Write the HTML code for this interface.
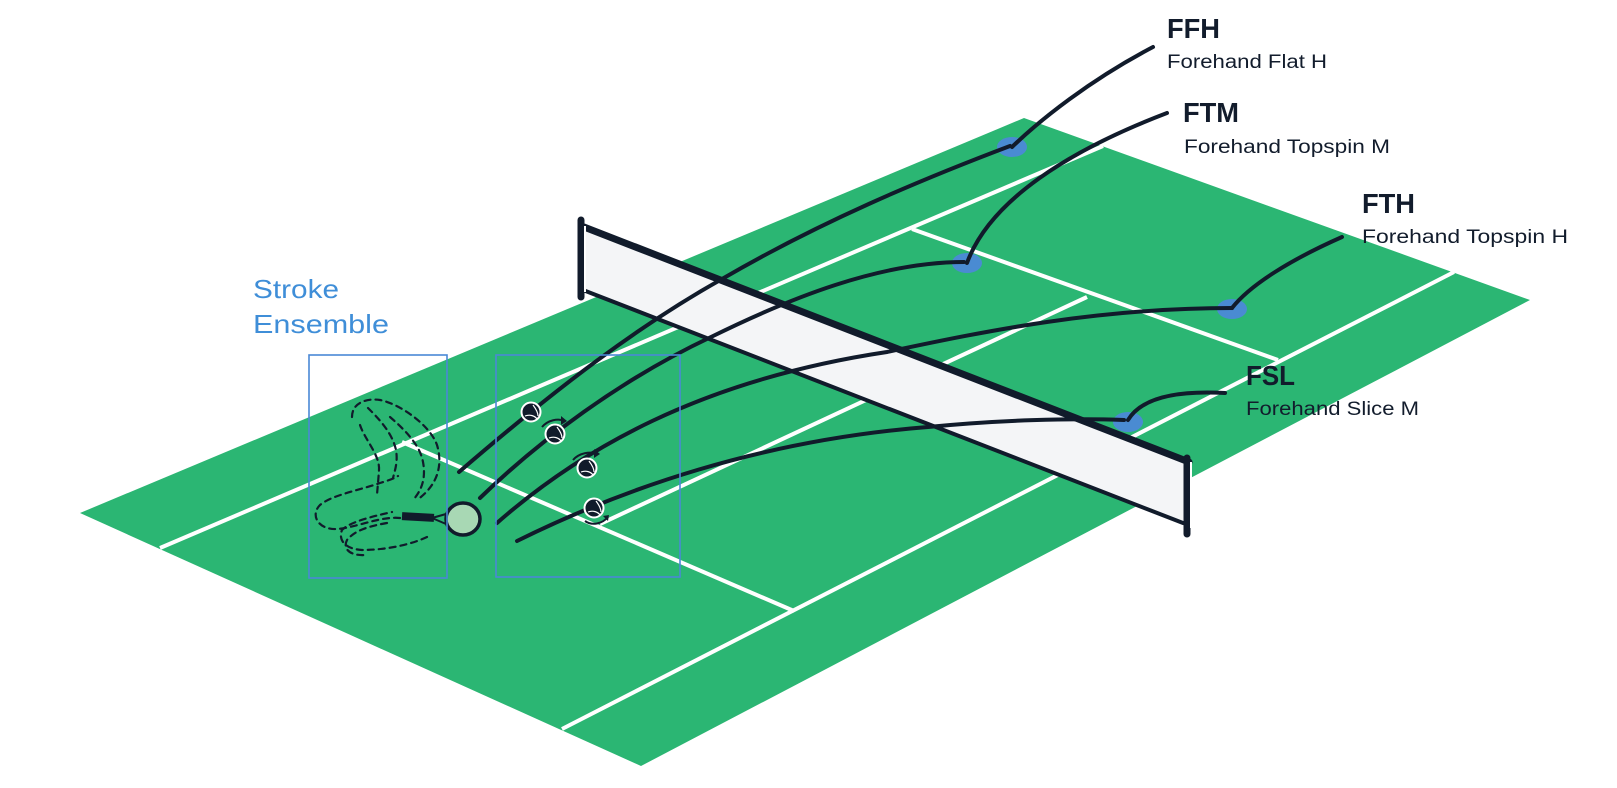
<!DOCTYPE html>
<html><head><meta charset="utf-8"><style>
html,body{margin:0;padding:0;background:#fff;}
svg{display:block;}
.lab{font-family:"Liberation Sans",sans-serif;font-weight:bold;font-size:28px;fill:#121c2c;}
.sub{font-family:"Liberation Sans",sans-serif;font-size:19px;fill:#121c2c;}
.blu{font-family:"Liberation Sans",sans-serif;font-size:26px;fill:#3f8ed8;}
</style></head><body>
<svg width="1617" height="788" viewBox="0 0 1617 788" xmlns="http://www.w3.org/2000/svg">
<!-- court -->
<polygon points="80,513 1024,118 1530,300 641,766" fill="#2bb673"/>
<g stroke="#fff" stroke-width="4" fill="none" stroke-linecap="butt">
<line x1="160" y1="548" x2="1103" y2="146"/>
<line x1="562" y1="729" x2="1454" y2="272"/>
<line x1="402" y1="442" x2="794" y2="611"/>
<line x1="912" y1="229" x2="1278" y2="360"/>
<line x1="600" y1="524" x2="1087" y2="297"/>
</g>
<!-- landing spots -->
<g fill="#4a8bd2">
<ellipse cx="1012" cy="147" rx="15" ry="10"/>
<ellipse cx="967" cy="263" rx="15" ry="10"/>
<ellipse cx="1232" cy="309" rx="15" ry="10"/>
<ellipse cx="1128" cy="422" rx="15" ry="10"/>
</g>
<!-- net -->
<polygon points="584,227 1189,462 1183,523 583,290" fill="#f4f5f7"/>
<g stroke="#111b2b" fill="none" stroke-linecap="round">
<line x1="584" y1="227" x2="1189" y2="462" stroke-width="7"/>
<line x1="583" y1="290" x2="1183" y2="523" stroke-width="4"/>
<line x1="581" y1="220" x2="581" y2="297" stroke-width="7"/>
<line x1="1187" y1="458" x2="1187" y2="534" stroke-width="7"/>
</g>
<line x1="585" y1="226" x2="585" y2="292" stroke="#fff" stroke-width="2"/>
<line x1="1191" y1="462" x2="1191" y2="528" stroke="#fff" stroke-width="2"/>
<!-- trajectories -->
<g stroke="#111b2b" stroke-width="4" fill="none" stroke-linecap="round">
<path d="M459,472 C560,385 640,325 722,279 C820,222 920,180 1010,146"/>
<path d="M480,498 C540,440 620,380 711,337 C790,298 880,262 964,262"/>
<path d="M497,523 C580,450 700,380 887,352 C990,330 1100,308 1232,308"/>
<path d="M517,541 C620,490 760,440 928,427 C1000,420 1070,418 1124,420"/>
<!-- connectors -->
<path d="M1153,47 C1090,80 1040,120 1012,147"/>
<path d="M1167,113 C1070,150 990,200 967,263"/>
<path d="M1342,237 C1290,260 1250,285 1232,308"/>
<path d="M1225,393 C1170,390 1140,400 1128,420"/>
</g>
<!-- balls -->
<g>
<g stroke="#fff" stroke-width="2" fill="#111b2b">
<circle cx="531" cy="412" r="9.5"/>
<circle cx="555" cy="434" r="9.5"/>
<circle cx="587" cy="468" r="9.5"/>
<circle cx="594" cy="508" r="9.5"/>
</g>
<g stroke="#fff" stroke-width="1.2" fill="none">
<path d="M525,416 C530,414 535,416 537,419"/><path d="M533,405 C536,409 538,413 538,416"/>
<path d="M549,438 C554,436 559,438 561,441"/><path d="M557,427 C560,431 562,435 562,438"/>
<path d="M581,472 C586,470 591,472 593,475"/><path d="M589,461 C592,465 594,469 594,472"/>
<path d="M588,512 C593,510 598,512 600,515"/><path d="M596,501 C599,505 601,509 601,512"/>
</g>
<g stroke="#111b2b" stroke-width="2" fill="none">
<path d="M542,427 C548,420 558,418 565,421"/>
<path d="M573,460 C579,453 590,451 598,454"/>
<path d="M585,521 C592,526 602,524 608,517"/>
</g>
<g fill="#111b2b">
<polygon points="567,421 561,416 561,425"/>
<polygon points="600,454 594,449 594,458"/>
<polygon points="609,515 603,516 608,521"/>
</g>
</g>
<!-- racket -->
<g>
<ellipse cx="463" cy="519" rx="17" ry="16" fill="#a8d8b4" stroke="#111b2b" stroke-width="3.5"/>
<path d="M446,514 L432,518 L446,524" stroke="#111b2b" stroke-width="2" fill="none"/>
<rect x="402" y="513" width="32" height="8" fill="#111b2b" transform="rotate(3 418 517)"/>
</g>
<!-- dashed swing -->
<g stroke="#111b2b" stroke-width="2.2" fill="none" stroke-dasharray="6,5" stroke-linecap="round">
<path d="M352,417 C352,402 368,398 380,400 C400,404 430,425 437,445 C443,465 438,485 417,500"/>
<path d="M360,425 C365,440 380,455 379,470 C378,485 377,492 377,497"/>
<path d="M368,408 C378,418 392,432 396,450 C398,462 395,470 393,478"/>
<path d="M390,417 C405,430 420,445 423,462 C426,478 422,490 413,500"/>
<path d="M400,518 C380,516 355,528 337,529 C318,530 310,515 320,505 C332,495 360,490 380,483 C390,480 395,478 398,476"/>
<path d="M427,537 C410,545 385,550 362,550 C345,549 338,540 342,530 C350,522 370,517 392,512"/>
<path d="M387,523 C370,526 355,530 347,540 C342,550 352,556 365,555"/>
</g>
<!-- blue boxes -->
<g stroke="#4a88d6" stroke-width="1.6" fill="none">
<rect x="309" y="355" width="138" height="223"/>
<rect x="496" y="355" width="184" height="222"/>
</g>
<text class="blu" x="253" y="298" textLength="86" lengthAdjust="spacingAndGlyphs">Stroke</text>
<text class="blu" x="253" y="333" textLength="136" lengthAdjust="spacingAndGlyphs">Ensemble</text>
<!-- labels -->
<text class="lab" x="1167" y="38" textLength="53" lengthAdjust="spacingAndGlyphs">FFH</text>
<text class="sub" x="1167" y="68" textLength="160" lengthAdjust="spacingAndGlyphs">Forehand Flat H</text>
<text class="lab" x="1183" y="122" textLength="56" lengthAdjust="spacingAndGlyphs">FTM</text>
<text class="sub" x="1184" y="153" textLength="206" lengthAdjust="spacingAndGlyphs">Forehand Topspin M</text>
<text class="lab" x="1362" y="213" textLength="53" lengthAdjust="spacingAndGlyphs">FTH</text>
<text class="sub" x="1362" y="243" textLength="206" lengthAdjust="spacingAndGlyphs">Forehand Topspin H</text>
<text class="lab" x="1246" y="385" textLength="49" lengthAdjust="spacingAndGlyphs">FSL</text>
<text class="sub" x="1246" y="415" textLength="173" lengthAdjust="spacingAndGlyphs">Forehand Slice M</text>
</svg>
</body></html>
